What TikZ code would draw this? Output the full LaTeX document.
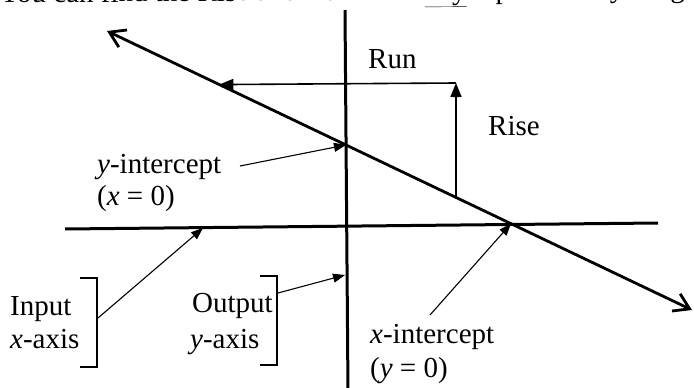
\documentclass[tikz,border=0pt]{standalone}
\usepackage{fontspec}
\setmainfont{Liberation Serif}
\usetikzlibrary{arrows.meta, calc}

\begin{document}
\begin{tikzpicture}[x=1pt, y=-1pt,
  every node/.style={font=\fontsize{29}{32}\selectfont, inner sep=0pt, anchor=base west},
  axis/.style={line width=3pt},
  mainline/.style={line width=2.8pt, {Straight Barb[length=15pt,width=19pt]}-{Straight Barb[length=15pt,width=19pt]}},
  runrise/.style={line width=1.6pt, -{Triangle[length=14pt,width=11pt]}},
  pointer/.style={line width=1.1pt, -{Triangle[length=12pt,width=9pt]}},
  bracket/.style={line width=1.1pt}]
  \useasboundingbox (0,0) rectangle (694,388);
  \clip (0,0) rectangle (694,388);

  % === HEADER (cut off at the top) ===
  \node[rotate=0.5] (header) at (-1,3) {You can find the Rise and Run from \underline{any} 2 points on your graph};

  % === AXES ===
  \coordinate (xleft) at (65,229);
  \coordinate (xright) at (658,223);
  \coordinate (ytop) at (345,10);
  \coordinate (ybottom) at (348,392);
  \draw[axis] (xleft) -- (xright);
  \draw[axis] (ytop) -- (ybottom);

  % === LINE ===
  \coordinate (lstart) at (107,31);
  \coordinate (lend) at (692,310);
  \draw[mainline] (lstart) -- (lend);
  \coordinate (yint) at ($(lstart)!0.4085!(lend)$);
  \coordinate (xint) at ($(lstart)!0.6906!(lend)$);

  % === RUN AND RISE ===
  \coordinate (corner) at (456,83);
  \coordinate (risebase) at ($(lstart)!0.5966!(lend)$);
  \coordinate (runtip) at ($(lstart)!0.1920!(lend)$);
  \draw[runrise] (corner) -- (runtip);
  \draw[runrise] (risebase) -- (corner);
  \node (runlab) at (368,68) {Run};
  \node (riselab) at (488,135) {Rise};

  % === Intercepts ===
  \node (yintlab) at (97,173) {\textit{y}-intercept};
  \node (yintcond) at (97,205) {(\textit{x} = 0)};
  \coordinate (yintfrom) at (240,166);
  \draw[pointer] (yintfrom) -- (yint);

  \node (xintlab) at (370,343) {\textit{x}-intercept};
  \node (xintcond) at (370,377) {(\textit{y} = 0)};
  \coordinate (xintfrom) at (430,315);
  \draw[pointer] (xintfrom) -- (xint);

  % === Input / Output ===
  \node (inlab) at (10,315) {Input};
  \node (inaxis) at (10,348) {\textit{x}-axis};
  \draw[bracket] (80,278) -- (97,278) -- (97,367) -- (80,367);
  \coordinate (infrom) at (98,318);
  \coordinate (xaxpt) at (203,228);
  \draw[pointer] (infrom) -- (xaxpt);

  \node (outlab) at (192,312) {Output};
  \node (outaxis) at (190,348) {\textit{y}-axis};
  \draw[bracket] (260,276) -- (277,276) -- (277,365) -- (260,365);
  \coordinate (outfrom) at (278,293);
  \coordinate (yaxpt) at (345,275);
  \draw[pointer] (outfrom) -- (yaxpt);
\end{tikzpicture}
\end{document}
